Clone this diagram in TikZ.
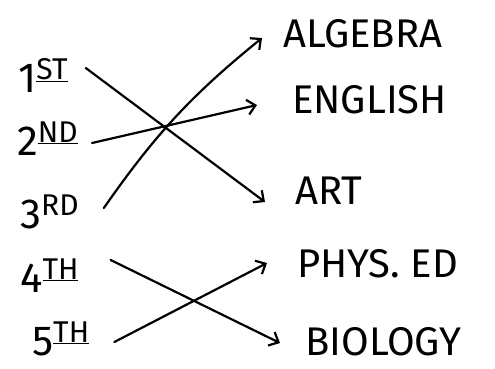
\documentclass[tikz,border=0pt]{standalone}
\usepackage{fontspec}
\setmainfont{Fira Sans}
\usetikzlibrary{arrows.meta}
\newcommand\ordsup[1]{\raisebox{13pt}{\fontsize{30}{32}\selectfont #1}}
\tikzset{
    period/.style={anchor=base west, inner sep=2pt, font=\fontsize{42}{44}\selectfont},
    subject/.style={anchor=base west, inner sep=2pt, font=\fontsize{40}{42}\selectfont},
    link/.style={line width=2.2pt, line cap=round,
                 -{Straight Barb[length=8pt, width=15pt, line width=2.2pt]}}
}

\begin{document}
\begin{tikzpicture}[x=1pt, y=-1pt]
    \useasboundingbox (0,0) rectangle (495,368);
    % class periods
    \node[period] (n1) at (16,92) {1\ordsup{\underline{ST}}};
    \node[period] (n2) at (15,155) {2\ordsup{\underline{ND}}};
    \node[period] (n3) at (18,228) {3\ordsup{RD}};
    \node[period] (n4) at (18,292) {4\ordsup{\underline{TH}}};
    \node[period] (n5) at (30,355) {5\ordsup{\underline{TH}}};
    % subjects
    \node[subject] (algebra) at (281,47) {ALGEBRA};
    \node[subject] (english) at (290,113) {ENGLISH};
    \node[subject] (art) at (293,204) {ART};
    \node[subject] (phys) at (295,277) {PHYS. ED};
    \node[subject] (bio) at (303,355) {BIOLOGY};
    % links
    \draw[link] ([xshift=16pt, yshift=24pt]n1.base east) -- ([xshift=-28pt, yshift=2pt]art.base west);
    \draw[link] ([xshift=12pt, yshift=12pt]n2.base east) -- ([xshift=-33pt, yshift=8pt]english.base west);
    \draw[link] ([xshift=23pt, yshift=20pt]n3.base east) to[bend left=8] ([xshift=-19pt, yshift=9pt]algebra.base west);
    \draw[link] ([xshift=30pt, yshift=32pt]n4.base east) -- ([xshift=-23pt, yshift=12pt]bio.base west);
    \draw[link] ([xshift=23pt, yshift=13pt]n5.base east) -- ([xshift=-28pt, yshift=14pt]phys.base west);
\end{tikzpicture}
\end{document}
